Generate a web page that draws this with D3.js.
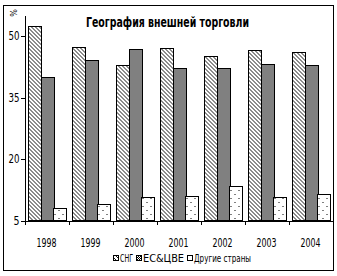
<!DOCTYPE html>
<html>
<head>
<meta charset="utf-8">
<script src="https://cdn.jsdelivr.net/npm/d3@7"></script>
<style>
  body { margin: 0; background: #fff; }
  text { font-family: "Liberation Sans Narrow", "DejaVu Sans Condensed", "Arial Narrow", sans-serif; font-stretch: condensed; }
</style>
</head>
<body>
<script>
// data
const years = ['1998', '1999', '2000', '2001', '2002', '2003', '2004'];
const cis = [52.4, 47.2, 42.9, 47.1, 45.0, 46.6, 46.1];
const euCee = [40.0, 44.1, 46.8, 42.3, 42.2, 43.2, 42.9];
const others = [8.0, 9.0, 10.7, 11.0, 13.4, 10.7, 11.5];
const seriesNames = ['СНГ', 'ЕС&ЦВЕ', 'Другие страны'];
const yTicks = [5, 20, 35, 50];

const [w, h] = [337, 276];
const plot = {left: 24.5, right: 332.5, top: 15.5, bottom: 220.5};

const svg = d3.select('body')
    .append('svg')
    .attr('width', w)
    .attr('height', h)
    .attr('shape-rendering', 'crispEdges');

//patterns for the fills
const defs = svg.append('defs');
const hatch = defs.append('pattern')
    .attr('id', 'hatch')
    .attr('patternUnits', 'userSpaceOnUse')
    .attr('width', 4).attr('height', 4);
hatch.append('rect').attr('width', 4).attr('height', 4).attr('fill', '#fff');
hatch.append('path')
    .attr('d', 'M0,0 L4,4 M-1,3 L1,5 M3,-1 L5,1')
    .attr('stroke', '#000').attr('stroke-width', 0.9)
    .attr('shape-rendering', 'auto');

const checker = defs.append('pattern')
    .attr('id', 'checker')
    .attr('patternUnits', 'userSpaceOnUse')
    .attr('width', 2).attr('height', 2);
checker.append('rect').attr('width', 2).attr('height', 2).attr('fill', '#fff');
checker.append('rect').attr('width', 1).attr('height', 1).attr('fill', '#000');
checker.append('rect').attr('x', 1).attr('y', 1).attr('width', 1).attr('height', 1).attr('fill', '#000');

const dots = defs.append('pattern')
    .attr('id', 'dots')
    .attr('patternUnits', 'userSpaceOnUse')
    .attr('width', 8).attr('height', 8);
dots.append('rect').attr('width', 8).attr('height', 8).attr('fill', '#fff');
dots.append('rect').attr('x', 2).attr('y', 2).attr('width', 1).attr('height', 1).attr('fill', '#000');
dots.append('rect').attr('x', 6).attr('y', 6).attr('width', 1).attr('height', 1).attr('fill', '#000');

const fills = ['url(#hatch)', 'url(#checker)', 'url(#dots)'];

//outer frame
svg.append('rect')
    .attr('x', 3.5).attr('y', 5.5)
    .attr('width', 330).attr('height', 265)
    .attr('fill', 'none').attr('stroke', '#000');

// scales
const x = d3.scaleBand()
    .domain(years)
    .range([plot.left, plot.right])
    .paddingInner(0).paddingOuter(0);

const xSub = d3.scaleBand()
    .domain([0, 1, 2])
    .range([0, x.bandwidth()])
    .paddingInner(0)
    .paddingOuter(0.26);

const y = d3.scaleLinear()
    .domain([5, 55])
    .range([plot.bottom, plot.top]);

const rows = years.map((yr, i) => ({year: yr, vals: [cis[i], euCee[i], others[i]]}));

// bars
const groups = svg.selectAll('g.year')
    .data(rows)
    .join('g')
    .attr('class', 'year')
    .attr('transform', d => `translate(${x(d.year)},0)`);

groups.selectAll('rect')
    .data(d => d.vals)
    .join('rect')
    .attr('x', (d, i) => Math.round(xSub(i)) + 0.5)
    .attr('y', d => Math.round(y(d)) + 0.5)
    .attr('width', Math.round(xSub.bandwidth()))
    .attr('height', d => plot.bottom - Math.round(y(d)) - 0.5)
    .attr('fill', (d, i) => fills[i])
    .attr('stroke', '#000')
    .attr('stroke-width', 1);

// axes
const yAxis = d3.axisLeft(y)
    .tickValues(yTicks)
    .tickSize(4)
    .tickSizeOuter(0);

const yg = svg.append('g')
    .attr('transform', `translate(${plot.left},0)`)
    .call(yAxis);
yg.selectAll('text')
    .attr('font-size', '12px')
    .attr('fill', '#000')
    .attr('x', -5)
    .attr('font-family', null)
    .attr('textLength', d => d < 10 ? 6 : 11)
    .attr('lengthAdjust', 'spacingAndGlyphs');

const bound = d3.scaleLinear().domain([0, years.length]).range([plot.left, plot.right]);
const xAxis = d3.axisBottom(bound)
    .tickValues(d3.range(0, years.length + 1))
    .tickSize(4)
    .tickSizeOuter(0)
    .tickFormat('');
svg.append('g')
    .attr('transform', `translate(0,${plot.bottom})`)
    .call(xAxis);

svg.append('g')
    .selectAll('text')
    .data(years)
    .join('text')
    .attr('x', d => x(d) + x.bandwidth() / 2)
    .attr('y', 247)
    .attr('text-anchor', 'middle')
    .attr('font-size', '12px')
    .attr('textLength', 20)
    .attr('lengthAdjust', 'spacingAndGlyphs')
    .text(d => d);

svg.selectAll('.domain, .tick line').attr('stroke', '#000');

// title
svg.append('text')
    .attr('x', 167.5)
    .attr('y', 27)
    .attr('text-anchor', 'middle')
    .attr('font-size', '13.5px')
    .attr('font-weight', 'bold')
    .attr('textLength', 163)
    .attr('lengthAdjust', 'spacingAndGlyphs')
    .text('География внешней торговли');

svg.append('text')
    .attr('transform', 'translate(17,13) rotate(-90)')
    .attr('text-anchor', 'middle')
    .attr('font-size', '9px')
    .text('%');

// legend
const legendWidths = [13, 41, 57];
const legend = svg.append('g');
let lx = 113;
seriesNames.forEach((name, i) => {
    legend.append('rect')
        .attr('x', lx + 0.5)
        .attr('y', 255.5)
        .attr('width', 5).attr('height', 5)
        .attr('fill', fills[i])
        .attr('stroke', '#000');
    legend.append('text')
        .attr('x', lx + 7)
        .attr('y', 262)
        .attr('font-size', '11px')
        .attr('textLength', legendWidths[i])
        .attr('lengthAdjust', 'spacingAndGlyphs')
        .text(name);
    lx += 7 + legendWidths[i] + 3;
});
</script>
</body>
</html>
